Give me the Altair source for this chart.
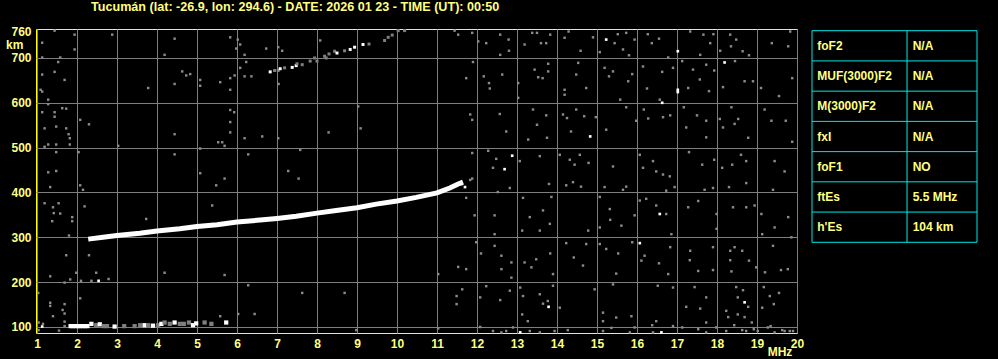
import altair as alt
import pandas as pd

# ---------------- data ----------------
# main F-layer trace (MHz, km)
f_trace_mhz = [2.28, 2.65, 3.0, 3.57, 4.0, 4.57, 5.0, 5.5, 6.0, 6.65, 7.0, 7.48, 8.0, 8.48, 9.0, 9.48, 10.0, 10.48, 11.0, 11.32, 11.53, 11.65]
f_trace_km = [296, 300, 304, 309, 314, 319, 324, 328, 334, 339, 342, 347, 354, 360, 366, 374, 381, 389, 399, 410, 419, 423]

# second-hop echo (MHz, km, tone)
echo2_mhz = [6.83, 6.94, 7.03, 7.08, 7.19, 7.38, 7.48, 7.5, 7.63, 7.83, 7.94, 8.0, 8.19, 8.23, 8.3, 8.44, 8.5, 8.69, 8.83, 8.94, 9.15, 9.3, 9.69, 9.78, 9.88, 10.03, 10.19]
echo2_km = [669, 672, 672, 676, 678, 679, 683, 687, 685, 693, 700, 693, 704, 700, 709, 715, 711, 716, 719, 724, 730, 731, 739, 746, 751, 761, 761]
echo2_tone = ["w", "g", "g", "w", "g", "w", "w", "g", "g", "g", "g", "g", "g", "g", "g", "g", "w", "g", "w", "w", "w", "g", "g", "g", "g", "g", "g"]

# sporadic E trace (MHz, km, tone)
es_mhz = [1.84, 1.9, 1.96, 2.02, 2.08, 2.14, 2.2, 2.26, 2.36, 2.48, 2.57, 2.67, 2.75, 2.94, 3.18, 3.44, 3.58, 3.69, 3.78, 3.9, 4.03, 4.11, 4.19, 4.32, 4.44, 4.57, 4.67, 4.8, 4.9, 4.98, 5.19, 5.36, 5.73]
es_km = [102, 102, 102, 102, 102, 102, 102, 102, 107, 104, 106, 102, 102, 101, 102, 102, 104, 104, 104, 103, 104, 107, 110, 107, 110, 107, 107, 110, 104, 108, 110, 107, 110]
es_tone = ["w", "w", "w", "w", "w", "w", "w", "w", "w", "g", "w", "g", "g", "w", "g", "g", "g", "w", "g", "w", "g", "w", "g", "g", "w", "g", "g", "g", "w", "w", "g", "g", "w"]

# scattered noise (grey)
noise_mhz = [
    11.88, 12.03, 12.23, 12.58, 12.79, 12.58, 12.8, 13.19, 13.38, 13.5, 13.6, 13.73, 13.83, 14.19, 14.29, 14.59, 14.9, 15.07, 15.44, 15.52, 15.73, 15.65, 15.8, 15.94, 16.27, 16.37, 16.55, 16.78, 17.33, 17.66, 17.83, 17.58, 17.91, 18.08, 18.33, 18.35, 18.48, 18.64, 18.8, 19.37, 19.78, 19.83,
    11.9, 11.73, 12.17, 12.3, 12.32, 12.63, 13.03, 13.03, 13.44, 13.53, 13.64, 13.78, 13.78, 14.19, 14.19, 14.53, 14.48, 14.73, 15.19, 15.4, 15.3, 15.58, 15.78, 15.88, 16.15, 16.25, 16.63, 16.57, 16.9, 17.13, 17.28, 17.4, 17.57, 17.73, 17.8, 17.93, 18.15, 18.45, 18.69, 18.9, 19.1, 19.55, 19.88,
    11.83, 11.88, 12.57, 12.73, 13.4, 13.5, 13.73, 13.75, 13.28, 14.15, 14.25, 14.35, 14.48, 14.68, 14.97, 15.23, 15.73, 15.98, 16.17, 16.28, 16.65, 16.83, 17.17, 17.23, 17.5, 17.73, 17.73, 18.07, 18.15, 18.36, 18.53, 18.44, 18.78, 19.19, 19.36, 19.72, 19.88,
    11.88, 12.28, 12.48, 13.07, 12.4, 13.57, 14.07, 14.32, 14.57, 14.44, 14.79, 15.4, 16.07, 16.15, 16.4, 16.48, 16.65, 16.82, 17.3, 17.63, 17.93, 18.13, 18.38, 18.6, 18.73, 19.44, 19.69,
    12.82, 13.8, 14.23, 14.4, 14.6, 15.19, 15.65, 15.73, 16.94, 16.73, 17.69, 17.9, 18.3, 18.73, 19.4,
    11.73, 11.94, 12.52, 12.44, 12.44, 13.15, 13.32, 13.13, 13.65, 13.86, 13.57, 13.82, 14.78, 15.07, 15.32, 15.33, 15.07, 15.61, 15.94, 16.07, 16.23, 16.48, 16.73, 16.86, 17.28, 17.53, 17.99, 17.99, 18.4, 18.73, 18.94, 19.11, 19.13, 19.44, 19.78, 19.86,
    11.73, 11.98, 12.1, 12.44, 12.61, 12.61, 12.86, 12.86, 13.19, 13.36, 13.48, 13.83, 13.9, 14.23, 14.42, 14.73, 14.65, 15.07, 15.23, 15.53, 15.48, 15.88, 16.19, 16.11, 16.55, 16.78, 16.83, 17.33, 17.32, 17.53, 17.9, 17.9, 18.33, 18.44, 18.63, 18.33, 18.36, 18.8, 18.98, 19.2, 19.4, 19.6, 19.77,
    11.63, 12.23, 12.08, 12.82, 12.58, 13.08, 13.15, 13.57, 13.65, 13.9, 14.07, 13.13, 13.27, 13.77, 14.94, 15.4, 15.15, 15.48, 15.86, 15.15, 15.36, 16.52, 16.9, 16.9, 16.48, 16.38, 17.44, 17.73, 17.23, 17.58, 17.73, 18.48, 18.65, 18.52, 18.78, 18.23, 18.28, 18.52, 18.69, 18.87, 19.13, 19.17, 19.32, 19.55, 19.42, 19.34, 18.43, 18.92, 19.69, 19.82,
    12.08, 12.4, 12.61, 12.73, 12.9, 13.32, 13.57, 13.94, 14.27, 15.15, 15.82, 15.94, 16.4, 17.13, 17.53, 17.73, 17.98, 18.23, 18.63, 18.73, 19.02, 19.27, 19.44, 19.63, 19.9,
    1.44, 1.94, 1.13, 1.94, 1.13, 1.58, 1.53, 2.88, 1.13, 1.44, 1.69, 1.09, 1.13, 1.28, 1.28, 1.63, 1.73, 1.44, 1.44, 1.13, 1.48, 1.73, 1.19, 1.79, 1.82, 1.82, 1.48, 1.28, 1.19, 1.48, 1.28, 1.48, 2.08, 2.3, 2.04, 3.03,
    3.78, 4.19, 4.44, 4.44, 4.63, 4.73, 4.83, 4.44, 4.44, 5.08, 5.08, 5.08, 5.08, 5.58, 5.53, 5.63, 5.69, 5.69, 5.83, 5.83, 5.83, 5.83, 5.93, 5.83, 5.83, 5.94, 6.02, 6.08, 5.98, 6.19, 6.23, 6.08, 6.19, 6.36, 6.19, 6.63, 6.28, 6.73, 7.03, 7.13, 7.04, 7.03, 7.28, 7.58, 7.54, 8.08, 8.29, 9.03, 9.09, 11.44, 11.53,
    1.33, 2.08, 2.15, 2.19, 1.19, 1.4, 1.54, 1.42, 1.58, 1.88, 1.88, 1.38, 1.8, 5.38, 5.48, 3.73, 1.73, 2.3, 1.33, 1.83, 1.98, 2.48, 2.79, 2.1, 2.36, 1.69, 4.19, 5.69, 6.28, 7.63, 8.69, 11.03, 11.53, 11.49, 11.49,
    1.03, 1.33, 1.33, 1.69, 2.08, 1.64, 1.69, 1.4, 5.58, 6.03, 6.44, 1.04, 1.15, 1.69, 1.69, 1.55, 1.04, 8.98, 11.03, 11.83, 11.88,
]
noise_km = [
    756, 737, 733, 752, 741, 707, 716, 730, 756, 756, 733, 733, 752, 745, 759, 716, 746, 713, 733, 753, 756, 719, 706, 741, 753, 733, 743, 701, 759, 752, 733, 707, 753, 716, 752, 726, 741, 715, 706, 733, 726, 759,
    691, 655, 659, 644, 632, 663, 644, 611, 674, 657, 655, 687, 670, 629, 618, 689, 663, 633, 678, 670, 659, 607, 648, 664, 681, 632, 669, 607, 678, 693, 633, 674, 652, 685, 626, 672, 635, 693, 648, 648, 633, 615, 655,
    574, 562, 575, 536, 585, 551, 572, 522, 518, 574, 566, 536, 585, 570, 568, 540, 590, 560, 585, 565, 568, 572, 590, 545, 572, 560, 523, 564, 545, 590, 564, 553, 522, 585, 560, 560, 513,
    488, 493, 475, 470, 455, 481, 484, 473, 484, 462, 466, 458, 484, 455, 470, 447, 440, 436, 490, 462, 473, 455, 462, 484, 470, 470, 447,
    410, 419, 416, 423, 413, 412, 406, 413, 412, 404, 406, 410, 412, 421, 406,
    388, 349, 401, 349, 307, 388, 345, 315, 360, 390, 315, 330, 315, 390, 363, 339, 322, 326, 349, 382, 386, 371, 352, 307, 367, 381, 352, 319, 367, 367, 371, 352, 307, 322, 345, 300,
    229, 289, 264, 281, 259, 229, 244, 210, 244, 233, 251, 264, 218, 287, 255, 285, 237, 285, 274, 264, 219, 289, 259, 248, 242, 218, 278, 270, 249, 225, 278, 227, 270, 278, 270, 249, 224, 248, 233, 222, 281, 227, 229,
    184, 191, 166, 181, 160, 188, 169, 173, 152, 192, 143, 128, 113, 158, 184, 195, 132, 121, 124, 113, 98, 192, 188, 102, 113, 104, 189, 166, 145, 141, 110, 189, 182, 166, 145, 136, 122, 128, 122, 110, 143, 189, 169, 176, 151, 102, 104, 95, 91, 91,
    100, 91, 88, 91, 99, 91, 88, 91, 93, 91, 88, 99, 88, 99, 95, 88, 99, 91, 93, 91, 91, 99, 88, 93, 91,
    761, 752, 734, 719, 701, 701, 691, 752, 663, 669, 651, 629, 625, 607, 597, 588, 587, 579, 569, 579, 547, 543, 543, 530, 521, 507, 507, 507, 502, 490, 445, 448, 562, 552, 490, 504,
    633, 707, 743, 642, 670, 661, 664, 530, 485, 651, 638, 498, 443, 646, 512, 512, 504, 431, 746, 655, 629, 584, 579, 557, 534, 661, 741, 730, 721, 707, 691, 678, 659, 659, 521, 525, 485, 721, 724, 716, 642, 521, 448, 495, 431, 739, 534, 592, 543, 761, 752,
    412, 416, 406, 369, 376, 367, 376, 354, 353, 345, 336, 336, 304, 371, 416, 341, 260, 260, 213, 206, 221, 221, 207, 203, 203, 199, 221, 216, 193, 176, 176, 218, 234, 169, 151,
    176, 154, 147, 151, 164, 138, 130, 124, 124, 129, 129, 110, 107, 112, 102, 92, 93, 93, 97, 428, 431,
]

# brighter isolated returns (white)
bright_mhz = [15.23, 17.02, 16.63, 17.02, 17.02, 18.19, 14.83, 12.69, 12.88, 11.62, 11.7, 16.57, 16.07, 13.79, 18.69, 13.08, 16.61, 2.54, 1.13]
bright_km = [741, 715, 600, 629, 624, 690, 525, 452, 482, 419, 412, 352, 287, 145, 155, 88, 88, 203, 101]

# table
table_labels = ["foF2", "MUF(3000)F2", "M(3000)F2", "fxI", "foF1", "ftEs", "h'Es"]
table_values = ["N/A", "N/A", "N/A", "N/A", "NO", "5.5 MHz", "104 km"]

title_text = "Tucumán (lat: -26.9, lon: 294.6) - DATE: 2026 01 23 - TIME (UT): 00:50"
x_ticks = list(range(1, 21))
y_ticks = [100, 200, 300, 400, 500, 600, 700, 760]

# ---------------- styling ----------------
FONT = "Liberation Sans"
TXT = "#ffff80"
FRAME = "#ffff00"
GRID = "#7f7f7f"
CYAN = "#00e8e8"

W, H = 761, 304

f_df = pd.DataFrame({"mhz": f_trace_mhz, "km": f_trace_km})
e2_df = pd.DataFrame({"mhz": echo2_mhz, "km": echo2_km, "tone": echo2_tone})
es_df = pd.DataFrame({"mhz": es_mhz, "km": es_km, "tone": es_tone})
n_df = pd.DataFrame({"mhz": noise_mhz, "km": noise_km})
b_df = pd.DataFrame({"mhz": bright_mhz, "km": bright_km})

xs = alt.Scale(domain=[0.975, 20.0], nice=False, zero=False)
ys = alt.Scale(domain=[86.6, 764.6], nice=False, zero=False)

xaxis = alt.Axis(values=x_ticks, title=None, labelColor=TXT, labelFont=FONT, labelFontSize=12,
                 labelFontWeight="bold", labelPadding=5, labelFlush=False, labelOverlap=False,
                 ticks=False, domain=False, grid=True, gridColor=GRID, gridWidth=1, gridOpacity=1)
yaxis = alt.Axis(values=y_ticks, title=None, labelColor=TXT, labelFont=FONT, labelFontSize=12,
                 labelFontWeight="bold", labelPadding=5, labelFlush=False, labelOverlap=False,
                 ticks=False, domain=False, grid=True, gridColor=GRID, gridWidth=1,
                 gridOpacity={"condition": {"test": "datum.value == 760", "value": 0}, "value": 1})

X = alt.X("mhz:Q", scale=xs, axis=xaxis)
Y = alt.Y("km:Q", scale=ys, axis=yaxis)
tone_color = alt.Color("tone:N", scale=alt.Scale(domain=["w", "g"], range=["#ffffff", GRID]), legend=None)

noise = alt.Chart(n_df).mark_square(size=6, color="#8a8a8a", opacity=1).encode(x=X, y=Y)
bright = alt.Chart(b_df).mark_square(size=7, color="#ffffff", opacity=1).encode(x=X, y=Y)
echo2 = alt.Chart(e2_df).mark_square(size=9, opacity=1).encode(x=X, y=Y, color=tone_color)
es = alt.Chart(es_df).mark_square(size=18, opacity=1).encode(x=X, y=Y, color=tone_color)
ftrace = alt.Chart(f_df).mark_line(color="#ffffff", strokeWidth=5, strokeCap="butt").encode(x=X, y=Y)

km_lbl = alt.Chart(pd.DataFrame({"t": ["km"]})).mark_text(
    text="km", font=FONT, fontSize=12, fontWeight="bold", color=TXT, align="left", baseline="middle"
).encode(x=alt.value(-30), y=alt.datum(730, scale=ys))
mhz_lbl = alt.Chart(pd.DataFrame({"t": ["MHz"]})).mark_text(
    text="MHz", font=FONT, fontSize=12, fontWeight="bold", color=TXT, align="center", baseline="middle"
).encode(x=alt.datum(19.575, scale=xs), y=alt.value(322.5))

main = alt.layer(noise, bright, echo2, es, ftrace, km_lbl, mhz_lbl)

# ---------------- table ----------------
n_rows = len(table_labels)
t_df = pd.DataFrame({"label": table_labels, "value": table_values, "yc": [i + 0.5 for i in range(n_rows)]})
h_df = pd.DataFrame({"k": list(range(n_rows + 1)), "x0": 0.0, "x1": 1.0})
v_df = pd.DataFrame({"c": [0.0, 0.576, 1.0], "y0": 0.0, "y1": float(n_rows)})

txs = alt.Scale(domain=[0, 1], range=[776, 941], nice=False, zero=False)
tys = alt.Scale(domain=[0, n_rows], range=[1.7, 213.3], nice=False, zero=False)

hrules = alt.Chart(h_df).mark_rule(color=CYAN, strokeWidth=1).encode(
    x=alt.X("x0:Q", scale=txs, axis=None), x2="x1:Q", y=alt.Y("k:Q", scale=tys, axis=None))
vrules = alt.Chart(v_df).mark_rule(color=CYAN, strokeWidth=1).encode(
    x=alt.X("c:Q", scale=txs, axis=None), y=alt.Y("y0:Q", scale=tys, axis=None), y2="y1:Q")
tlabels = alt.Chart(t_df).mark_text(font=FONT, fontSize=12, fontWeight="bold", color=TXT,
                                    align="left", baseline="middle").encode(
    x=alt.datum(0.032, scale=txs), y=alt.Y("yc:Q", scale=tys, axis=None), text="label:N")
tvalues = alt.Chart(t_df).mark_text(font=FONT, fontSize=12, fontWeight="bold", color=TXT,
                                    align="left", baseline="middle").encode(
    x=alt.datum(0.61, scale=txs), y=alt.Y("yc:Q", scale=tys, axis=None), text="value:N")
table = alt.layer(hrules, vrules, tlabels, tvalues)

chart = alt.layer(main, table).resolve_scale(x="independent", y="independent").properties(
    width=W, height=H,
    autosize="none",
    padding={"left": 36, "top": 29, "right": 998 - 36 - W, "bottom": 359 - 29 - H},
    background="#000000",
    title=alt.TitleParams(text=title_text, anchor="start", frame="group", dx=55, offset=1,
                          baseline="alphabetic", font=FONT, fontSize=12.6, fontWeight="bold", color=TXT),
).configure_view(stroke=FRAME, strokeWidth=1, fill="#000000")

chart.save("out.html", embed_options={"renderer": "svg", "actions": False})
